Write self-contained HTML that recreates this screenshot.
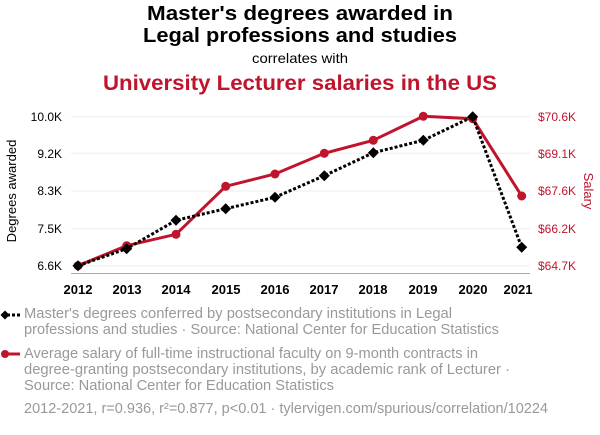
<!DOCTYPE html>
<html><head><meta charset="utf-8"><style>
body{margin:0;background:#fff;width:600px;height:430px;overflow:hidden;font-family:"Liberation Sans",sans-serif;}
</style></head><body>
<svg width="600" height="430" xmlns="http://www.w3.org/2000/svg" font-family="Liberation Sans, sans-serif">
<text x="147" y="20" font-size="20.5" font-weight="bold" fill="#000" textLength="306" lengthAdjust="spacingAndGlyphs">Master's degrees awarded in</text>
<text x="143" y="42" font-size="20.5" font-weight="bold" fill="#000" textLength="314" lengthAdjust="spacingAndGlyphs">Legal professions and studies</text>
<text x="252" y="63" font-size="14" fill="#000" textLength="96" lengthAdjust="spacingAndGlyphs">correlates with</text>
<text x="103" y="90" font-size="21" font-weight="bold" fill="#c0142c" textLength="394" lengthAdjust="spacingAndGlyphs">University Lecturer salaries in the US</text>
<g stroke="#eee" stroke-width="1">
<line x1="71" x2="530" y1="116.7" y2="116.7"/><line x1="71" x2="530" y1="153.3" y2="153.3"/><line x1="71" x2="530" y1="191" y2="191"/><line x1="71" x2="530" y1="228.7" y2="228.7"/><line x1="71" x2="530" y1="265.7" y2="265.7"/>
</g>
<line x1="71" x2="530" y1="273.5" y2="273.5" stroke="#aaa"/>
<g font-size="12" fill="#000" text-anchor="end">
<text x="62" y="121">10.0K</text><text x="62" y="158">9.2K</text><text x="62" y="195">8.3K</text><text x="62" y="233">7.5K</text><text x="62" y="270">6.6K</text>
</g>
<g font-size="12" fill="#c0142c">
<text x="538" y="121">$70.6K</text><text x="538" y="158">$69.1K</text><text x="538" y="195">$67.6K</text><text x="538" y="233">$66.2K</text><text x="538" y="270">$64.7K</text>
</g>
<text transform="translate(16,191) rotate(-90)" text-anchor="middle" font-size="13" fill="#000">Degrees awarded</text>
<text transform="translate(584,191) rotate(90)" text-anchor="middle" font-size="13" fill="#c0142c">Salary</text>
<g font-size="13" font-weight="bold" fill="#000" text-anchor="middle">
<text x="78" y="294">2012</text><text x="127" y="294">2013</text><text x="176" y="294">2014</text><text x="226" y="294">2015</text><text x="275" y="294">2016</text><text x="324" y="294">2017</text><text x="373" y="294">2018</text><text x="423" y="294">2019</text><text x="473" y="294">2020</text><text x="518" y="294">2021</text>
</g>
<polyline fill="none" stroke="#c0142c" stroke-width="3" points="78,265.7 126.7,245.7 176,234.3 225.7,186.3 275,174 324.3,153.3 373.3,140.3 423.3,116.3 472.7,118.7 521.7,196"/>
<g fill="#c0142c">
<circle cx="78" cy="265.7" r="4.5"/><circle cx="126.7" cy="245.7" r="4.5"/><circle cx="176" cy="234.3" r="4.5"/><circle cx="225.7" cy="186.3" r="4.5"/><circle cx="275" cy="174" r="4.5"/><circle cx="324.3" cy="153.3" r="4.5"/><circle cx="373.3" cy="140.3" r="4.5"/><circle cx="423.3" cy="116.3" r="4.5"/><circle cx="472.7" cy="118.7" r="4.5"/><circle cx="521.7" cy="196" r="4.5"/>
</g>
<polyline fill="none" stroke="#000" stroke-width="3" stroke-dasharray="3,2" points="78,265.7 126.7,248.7 176,220.3 225.7,208.7 275,197.3 324.3,175.7 373.3,152.7 423.3,140.3 472.7,116.7 521.7,247.3"/>
<g fill="#000">
<path d="M78,260.2l5.5,5.5l-5.5,5.5l-5.5,-5.5z"/><path d="M126.7,243.2l5.5,5.5l-5.5,5.5l-5.5,-5.5z"/><path d="M176,214.8l5.5,5.5l-5.5,5.5l-5.5,-5.5z"/><path d="M225.7,203.2l5.5,5.5l-5.5,5.5l-5.5,-5.5z"/><path d="M275,191.8l5.5,5.5l-5.5,5.5l-5.5,-5.5z"/><path d="M324.3,170.2l5.5,5.5l-5.5,5.5l-5.5,-5.5z"/><path d="M373.3,147.2l5.5,5.5l-5.5,5.5l-5.5,-5.5z"/><path d="M423.3,134.8l5.5,5.5l-5.5,5.5l-5.5,-5.5z"/><path d="M472.7,111.2l5.5,5.5l-5.5,5.5l-5.5,-5.5z"/><path d="M521.7,241.8l5.5,5.5l-5.5,5.5l-5.5,-5.5z"/>
</g>
<line x1="2" x2="20" y1="315" y2="315" stroke="#000" stroke-width="3" stroke-dasharray="3,2"/>
<path d="M5,310.5l4.5,4.5l-4.5,4.5l-4.5,-4.5z" fill="#000"/>
<line x1="2" x2="20" y1="354" y2="354" stroke="#c0142c" stroke-width="3"/>
<circle cx="5" cy="354" r="4" fill="#c0142c"/>
<g font-size="14.5" fill="#999" lengthAdjust="spacingAndGlyphs">
<text x="24" y="318" textLength="428" lengthAdjust="spacingAndGlyphs">Master's degrees conferred by postsecondary institutions in Legal</text>
<text x="24" y="334" textLength="475" lengthAdjust="spacingAndGlyphs">professions and studies · Source: National Center for Education Statistics</text>
<text x="24" y="358" textLength="454" lengthAdjust="spacingAndGlyphs">Average salary of full-time instructional faculty on 9-month contracts in</text>
<text x="24" y="374" textLength="486" lengthAdjust="spacingAndGlyphs">degree-granting postsecondary institutions, by academic rank of Lecturer ·</text>
<text x="24" y="390" textLength="310" lengthAdjust="spacingAndGlyphs">Source: National Center for Education Statistics</text>
<text x="24" y="413" textLength="524" lengthAdjust="spacingAndGlyphs">2012-2021, r=0.936, r²=0.877, p&lt;0.01 · tylervigen.com/spurious/correlation/10224</text>
</g>
</svg>
</body></html>
